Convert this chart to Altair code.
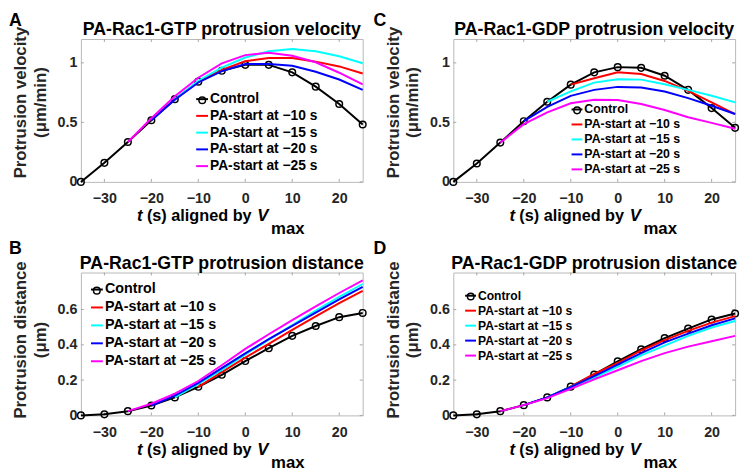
import altair as alt
import pandas as pd

FONT = "Liberation Sans"

T = [-35, -30, -25, -20, -15, -10, -5, 0, 5, 10, 15, 20, 25]
SERIES = ["Control", "PA-start at \u221210 s", "PA-start at \u221215 s",
          "PA-start at \u221220 s", "PA-start at \u221225 s"]
COLORS = ["#000000", "#FF0000", "#00FFFF", "#0000FF", "#FF00FF"]
START = [-35, -10, -15, -20, -25]
X_TICKS = [-30, -20, -10, 0, 10, 20]

# Panel A: PA-Rac1-GTP protrusion velocity
a_ctrl = [0, 0.16, 0.335, 0.518, 0.695, 0.842, 0.933, 0.983, 0.983, 0.92, 0.80, 0.654, 0.482]
a_m10 = [0.842, 0.94, 1.014, 1.04, 1.04, 1.01, 0.97, 0.91]
a_m15 = [0.695, 0.85, 0.96, 1.045, 1.097, 1.116, 1.097, 1.055, 0.997]
a_m20 = [0.518, 0.69, 0.835, 0.93, 0.99, 0.99, 0.975, 0.925, 0.86, 0.773]
a_m25 = [0.335, 0.535, 0.72, 0.875, 0.995, 1.065, 1.085, 1.06, 1.005, 0.917, 0.82]

# Panel C: PA-Rac1-GDP protrusion velocity
c_ctrl = [0, 0.155, 0.33, 0.51, 0.673, 0.817, 0.92, 0.964, 0.958, 0.892, 0.773, 0.62, 0.454]
c_m10 = [0.817, 0.87, 0.92, 0.906, 0.848, 0.765, 0.668, 0.57]
c_m15 = [0.673, 0.76, 0.834, 0.862, 0.859, 0.82, 0.773, 0.723, 0.668]
c_m20 = [0.51, 0.63, 0.723, 0.773, 0.798, 0.792, 0.759, 0.704, 0.64, 0.57]
c_m25 = [0.33, 0.485, 0.584, 0.66, 0.69, 0.687, 0.654, 0.604, 0.543, 0.496, 0.446]

# Panel B: PA-Rac1-GTP protrusion distance
b_ctrl = [0, 0.006, 0.024, 0.056, 0.102, 0.162, 0.23, 0.308, 0.381, 0.451, 0.507, 0.557, 0.581]
b_m10 = [0.162, 0.245, 0.328, 0.405, 0.485, 0.562, 0.636, 0.706]
b_m15 = [0.102, 0.178, 0.258, 0.345, 0.43, 0.512, 0.594, 0.672, 0.745]
b_m20 = [0.056, 0.112, 0.184, 0.268, 0.352, 0.432, 0.508, 0.583, 0.658, 0.729]
b_m25 = [0.024, 0.066, 0.123, 0.195, 0.284, 0.377, 0.46, 0.54, 0.618, 0.694, 0.765]

# Panel D: PA-Rac1-GDP protrusion distance
d_ctrl = [0, 0.006, 0.024, 0.058, 0.102, 0.163, 0.232, 0.307, 0.375, 0.438, 0.492, 0.544, 0.578]
d_m10 = [0.163, 0.235, 0.297, 0.368, 0.427, 0.479, 0.526, 0.563]
d_m15 = [0.102, 0.16, 0.215, 0.275, 0.34, 0.396, 0.451, 0.498, 0.535]
d_m20 = [0.058, 0.102, 0.16, 0.223, 0.288, 0.353, 0.414, 0.464, 0.511, 0.55]
d_m25 = [0.024, 0.058, 0.098, 0.15, 0.204, 0.256, 0.308, 0.353, 0.39, 0.42, 0.451]

W, H = 286, 145
LABEL_COLOR = "#262626"
TICK_COLOR = "#a6a6a6"
PT_SIZE = 45


def series_frame(vals_list):
    rows = []
    for name, start, vals in zip(SERIES, START, vals_list):
        ts = [t for t in T if t >= start]
        for t, v in zip(ts, vals):
            rows.append({"t": t, "v": v, "s": name})
    return pd.DataFrame(rows)


def text_layer(txt, x, y, size=17, style="normal", align="left", baseline="alphabetic"):
    return alt.Chart(pd.DataFrame({"s": [txt]})).mark_text(
        align=align, baseline=baseline, fontSize=size, font=FONT,
        fontWeight="bold", fontStyle=style, color="black"
    ).encode(text="s:N", x=alt.value(x), y=alt.value(y))


def panel(vals_list, ymax, yticks, title, ytitle, letter, letter_x, letter_y, title_y, leg):
    df = series_frame(vals_list)
    ctrl = df[df.s == SERIES[0]]
    others = df[df.s != SERIES[0]]

    xenc = alt.X("t:Q", scale=alt.Scale(domain=[-35, 25], nice=False, zero=False),
                 axis=alt.Axis(values=X_TICKS, title=None, grid=False, ticks=False,
                               domain=False, labelFontSize=14.5, labelFont=FONT,
                               labelFontWeight="bold", labelColor=LABEL_COLOR,
                               labelPadding=10, format="d"))
    yenc = alt.Y("v:Q", scale=alt.Scale(domain=[0, ymax], nice=False, zero=False),
                 axis=alt.Axis(values=yticks, title=ytitle, grid=False, ticks=False,
                               domain=False, labelFontSize=14.5, labelFont=FONT,
                               labelFontWeight="bold", labelColor=LABEL_COLOR,
                               labelPadding=4, format=".1~f",
                               titleFontSize=17, titleFont=FONT, titleFontWeight="bold",
                               titleColor=LABEL_COLOR, titleAngle=270, titleX=-69,
                               titleY=title_y, titleBaseline="top", titleAlign="center",
                               titleLineHeight=20))
    common_leg = dict(orient="none", title=None, labelFont=FONT, labelFontWeight="bold",
                      labelColor="black", padding=0, labelLimit=300)
    cenc = alt.Color("s:N", scale=alt.Scale(domain=SERIES, range=COLORS),
                     legend=alt.Legend(legendX=leg["x"], legendY=leg["y"],
                                       symbolType="stroke", labelFontSize=leg["fs"],
                                       rowPadding=leg["rp"],
                                       symbolSize=leg["sym"] ** 2, symbolStrokeWidth=2,
                                       labelOffset=1, **common_leg))
    circ = PT_SIZE ** 0.5
    senc = alt.Shape("s:N", scale=alt.Scale(domain=[SERIES[0]], range=["circle"]),
                     legend=alt.Legend(legendX=leg["x"] + (leg["sym"] - circ) / 2,
                                       legendY=leg["y"] + (leg["fs"] - circ) / 2,
                                       symbolSize=PT_SIZE, symbolStrokeWidth=1.5,
                                       symbolStrokeColor="black",
                                       symbolFillColor="transparent",
                                       labelExpr="''", labelFontSize=1, labelOffset=0,
                                       **common_leg))

    ctrl_line = alt.Chart(ctrl).mark_line(strokeWidth=2).encode(x=xenc, y=yenc, color=cenc)
    ctrl_pts = alt.Chart(ctrl).mark_point(filled=False, size=PT_SIZE,
                                          strokeWidth=1.5, color="black", opacity=1
                                          ).encode(x=xenc, y=yenc, shape=senc)
    other_lines = alt.Chart(others).mark_line(strokeWidth=2).encode(
        x=xenc, y=yenc, color=cenc, order=alt.Order("t:Q"))

    xt = pd.DataFrame({"t": X_TICKS})
    yt = pd.DataFrame({"v": yticks})
    tick_b = alt.Chart(xt).mark_rule(color=TICK_COLOR, strokeWidth=1).encode(
        x=xenc, y=alt.value(H), y2=alt.value(H - 3))
    tick_t = alt.Chart(xt).mark_rule(color=TICK_COLOR, strokeWidth=1).encode(
        x=xenc, y=alt.value(0), y2=alt.value(3))
    tick_l = alt.Chart(yt).mark_rule(color=TICK_COLOR, strokeWidth=1).encode(
        y=yenc, x=alt.value(0), x2=alt.value(3))
    tick_r = alt.Chart(yt).mark_rule(color=TICK_COLOR, strokeWidth=1).encode(
        y=yenc, x=alt.value(W - 3), x2=alt.value(W))

    ttl = text_layer(title, W / 2, -4, size=18, align="center")
    lbl = text_layer(letter, letter_x, letter_y, size=18, baseline="top")
    t1 = text_layer("t", 57, H + 40, style="italic")
    t2 = text_layer("(s) aligned by", 67, H + 40, size=16.5)
    t3 = text_layer("V", 179, H + 40, style="italic")
    t4 = text_layer("max", 193, H + 53)

    return alt.layer(tick_b, tick_t, tick_l, tick_r, ctrl_line, ctrl_pts, other_lines,
                     ttl, lbl, t1, t2, t3, t4).properties(width=W, height=H)


pa = panel([a_ctrl, a_m10, a_m15, a_m20, a_m25], 1.2, [0, 0.5, 1],
           "PA-Rac1-GTP protrusion velocity", ["Protrusion velocity", "(\u03bcm/min)"],
           "A", -73, -27, 64, {"x": 116, "y": 54, "fs": 14, "rp": 3, "sym": 12})
pc = panel([c_ctrl, c_m10, c_m15, c_m20, c_m25], 1.2, [0, 0.5, 1],
           "PA-Rac1-GDP protrusion velocity", ["Protrusion velocity", "(\u03bcm/min)"],
           "C", -81, -27, 64, {"x": 119, "y": 65, "fs": 12.5, "rp": 2.2, "sym": 11})
pb = panel([b_ctrl, b_m10, b_m15, b_m20, b_m25], 0.81, [0, 0.2, 0.4, 0.6],
           "PA-Rac1-GTP protrusion distance", ["Protrusion distance", "(\u03bcm)"],
           "B", -73, -33, 68, {"x": 9, "y": 10, "fs": 14.5, "rp": 3.2, "sym": 12})
pd_ = panel([d_ctrl, d_m10, d_m15, d_m20, d_m25], 0.81, [0, 0.2, 0.4, 0.6],
            "PA-Rac1-GDP protrusion distance", ["Protrusion distance", "(\u03bcm)"],
            "D", -81, -33, 68, {"x": 11, "y": 17, "fs": 12.3, "rp": 2.2, "sym": 11})

chart = alt.concat(pa, pc, pb, pd_, columns=2, spacing=92, bounds="flush").resolve_scale(
    color="independent", shape="independent", x="independent", y="independent"
).resolve_legend(color="independent", shape="independent").properties(
    padding=0, background="white"
).configure_view(stroke="#b8b8b8", strokeWidth=1)

chart.save("out.html", embed_options={"renderer": "svg", "actions": False})
